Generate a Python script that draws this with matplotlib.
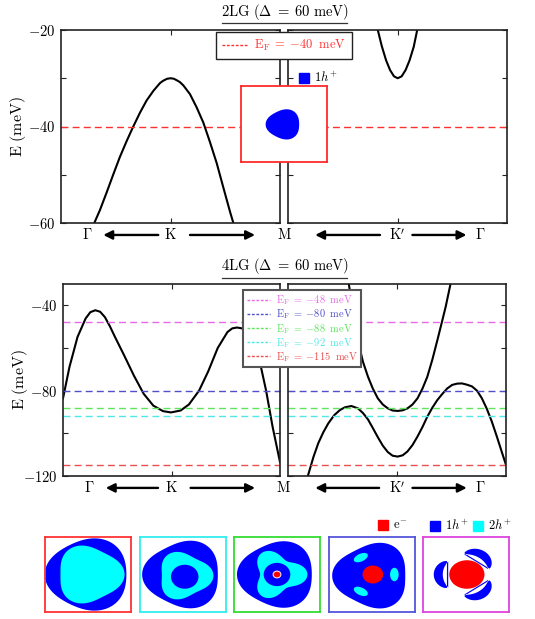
import numpy as np
import matplotlib
matplotlib.use('Agg')
import matplotlib.pyplot as plt
from matplotlib.lines import Line2D
from matplotlib.patches import Polygon, Ellipse

plt.rcParams['font.family'] = 'serif'
plt.rcParams['font.serif'] = ['cmr10', 'DejaVu Serif']
plt.rcParams['mathtext.fontset'] = 'cm'
plt.rcParams['axes.formatter.use_mathtext'] = True

# ---- band data (x = fraction along path, E in meV) ----
# 2LG, Gamma -> K -> M
lg2_left_x = [0.152, 0.178, 0.209, 0.239, 0.269, 0.300, 0.330, 0.361, 0.391, 0.422, 0.452, 0.467,
              0.485, 0.501, 0.515, 0.528, 0.543, 0.559, 0.589, 0.619, 0.650, 0.680, 0.711, 0.741,
              0.772, 0.787]
lg2_left_e = [-60.0, -57.3, -53.6, -49.9, -46.3, -43.0, -40.0, -37.1, -34.6, -32.6, -31.0, -30.5,
              -30.1, -30.0, -30.1, -30.4, -30.8, -31.5, -33.3, -36.0, -39.2, -43.2, -47.6, -52.6,
              -57.7, -60.0]
# 2LG, M -> K' -> Gamma
lg2_right_x = [0.410, 0.428, 0.448, 0.466, 0.484, 0.501, 0.519, 0.537, 0.555, 0.574, 0.590]
lg2_right_e = [-20.0, -23.3, -26.3, -28.3, -29.6, -30.0, -29.6, -28.3, -26.3, -23.5, -20.0]

# 4LG, Gamma -> K -> M
lg4_left_x = [0.000, 0.030, 0.067, 0.104, 0.126, 0.149, 0.171, 0.193, 0.216, 0.238, 0.282, 0.327,
              0.372, 0.416, 0.461, 0.498, 0.542, 0.580, 0.627, 0.669, 0.713, 0.758, 0.780, 0.802,
              0.825, 0.847, 0.877, 0.906, 0.936, 0.966, 1.000]
lg4_left_e = [-83.6, -68.8, -54.8, -46.2, -43.2, -42.3, -43.0, -45.5, -49.8, -54.5, -63.5, -73.0,
              -81.5, -87.0, -89.6, -90.2, -89.3, -86.5, -80.0, -71.0, -60.0, -52.5, -50.8, -50.4,
              -50.8, -52.5, -57.0, -66.0, -80.0, -97.0, -113.5]
# 4LG, M -> K' -> Gamma (upper and lower bands)
lg4_up_x = [0.279, 0.291, 0.306, 0.324, 0.344, 0.367, 0.389, 0.412, 0.435, 0.458, 0.480, 0.503,
            0.526, 0.548, 0.571, 0.594, 0.617, 0.639, 0.662, 0.685, 0.708, 0.723, 0.745]
lg4_up_e = [-30.0, -38.0, -48.0, -58.0, -66.5, -73.5, -79.0, -83.6, -86.5, -88.3, -89.3, -89.5,
            -89.2, -88.3, -86.5, -83.6, -79.0, -73.5, -65.5, -56.4, -47.0, -40.8, -30.2]
lg4_low_x = [0.091, 0.117, 0.139, 0.162, 0.185, 0.212, 0.238, 0.261, 0.291, 0.321, 0.344, 0.367,
             0.389, 0.412, 0.435, 0.458, 0.480, 0.503, 0.526, 0.548, 0.571, 0.594, 0.617, 0.639,
             0.662, 0.685, 0.708, 0.730, 0.753, 0.776, 0.798, 0.821, 0.844, 0.867, 0.889, 0.912,
             0.935, 0.958, 0.980, 1.000]
lg4_low_e = [-120.0, -111.0, -104.6, -99.5, -95.3, -91.5, -89.1, -87.8, -87.2, -88.3, -90.5, -93.5,
             -97.5, -101.8, -105.8, -108.8, -110.5, -110.9, -110.3, -108.5, -105.5, -101.5, -97.0, -92.2,
             -88.0, -84.4, -81.5, -79.0, -77.3, -76.7, -76.6, -77.2, -78.0, -80.0, -83.5, -88.5,
             -94.5, -101.5, -108.5, -114.8]

# Fermi levels
ef_2lg = -40
ef_2lg_color = '#ff3030'
ef_4lg = [-48, -80, -88, -92, -115]
ef_4lg_colors = ['#e86ae8', '#5050c8', '#5ce65c', '#4de8e8', '#e85050']

# Fermi-surface insets (bottom row, E_F = -115, -92, -88, -80, -48 meV)
inset_edges = ['#ff3333', '#33eeee', '#33dd33', '#5555dd', '#dd44dd']
# trigonal pockets: (colour, cx, cy, r0, warping, orientation deg)
inset_pockets = [
    [('blue', 0.0, 0.0, 0.95, 0.06, 180), ('cyan', 0.03, 0.0, 0.745, 0.10, 0)],
    [('blue', 0.0, 0.0, 0.88, 0.08, 180), ('cyan', 0.03, -0.03, 0.60, 0.13, 0)],
    [('blue', 0.0, 0.0, 0.87, 0.07, 180), ('cyan', 0.02, 0.0, 0.55, 0.25, 0)],
    [('blue', 0.0, -0.03, 0.85, 0.09, 180)],
    [],
]
# round pockets: (colour, cx, cy, x radius, y radius)
inset_discs = [
    [],
    [('blue', 0.04, -0.06, 0.32, 0.32)],
    [('blue', 0.0, 0.0, 0.31, 0.31), ('red', 0.0, 0.0, 0.09, 0.09)],
    [('red', 0.02, 0.0, 0.24, 0.24)],
    [('red', 0.02, 0.0, 0.41, 0.38)],
]
# small satellite pockets: (colour, angle deg, distance, radial size, tangential size)
inset_satellites = [[], [], [],
                    [('cyan', 0, 0.52, 0.20, 0.36), ('cyan', 120, 0.52, 0.20, 0.36),
                     ('cyan', 240, 0.52, 0.20, 0.36)],
                    []]
# crescent pockets: (colour, centre angle deg, half span deg, inner r, max width)
inset_arcs = [[], [], [], [],
              [('blue', 55, 40, 0.54, 0.21), ('blue', 180, 40, 0.54, 0.21), ('blue', 305, 40, 0.54, 0.21)]]
# 2LG inset pocket at E_F = -40 meV
top_pocket = ('blue', -0.01, -0.01, 0.39, 0.07, 180)

# bottom legend entries
key_colors = ['red', 'blue', 'cyan']
key_labels = [r'$\mathrm{e}^{-}$', r'$1h^{+}$', r'$2h^{+}$']

W, H = 535, 619
fig = plt.figure(figsize=(W / 100, H / 100), dpi=100)


def px_axes(x0, y0, x1, y1):
    return fig.add_axes([x0 / W, 1 - y1 / H, (x1 - x0) / W, (y1 - y0) / H])


def band_axes(ax, ylim, major, minor, labels):
    ax.set_xlim(0, 1)
    ax.set_ylim(*ylim)
    ax.set_xticks([0.5])
    ax.set_xticklabels([])
    ax.set_yticks(major)
    ax.set_yticks(minor, minor=True)
    ax.set_yticklabels([r'$-%d$' % abs(v) for v in major] if labels else [])
    ax.tick_params(which='both', direction='in', length=3.5, width=0.8, left=True, right=True,
                   top=True, bottom=True, labelsize=10.5, pad=4, color='#222222')
    for s in ax.spines.values():
        s.set_linewidth(1.2)
        s.set_color('#222222')


def path_labels(ax, labels, pos, arrows):
    for lab, xp in zip(labels, pos):
        ax.text(xp, -0.062, lab, transform=ax.transAxes, ha='center', va='center',
                fontsize=10.5, clip_on=False)
    for xs, xe in arrows:
        ax.annotate('', xy=(xe, -0.062), xytext=(xs, -0.062), xycoords='axes fraction',
                    arrowprops=dict(arrowstyle='-|>', color='k', lw=1.7, mutation_scale=13,
                                    shrinkA=0, shrinkB=0))


def trigonal(ax, colour, cx, cy, r0, w, th0):
    t = np.linspace(0, 2 * np.pi, 300)
    r = r0 * (1 + w * np.cos(3 * (t - np.radians(th0))))
    ax.add_patch(Polygon(np.column_stack([cx + r * np.cos(t), cy + r * np.sin(t)]),
                         closed=True, fc=colour, ec='none'))


def crescent(ax, colour, ang, half, rin, wid):
    phi = np.radians(np.linspace(ang - half, ang + half, 80))
    u = (phi - np.radians(ang)) / np.radians(half)
    rout = rin + wid * np.cos(u * np.pi / 2) ** 0.6
    xy = np.concatenate([np.column_stack([rout * np.cos(phi), rout * np.sin(phi)]),
                         np.column_stack([rin * np.cos(phi[::-1]), rin * np.sin(phi[::-1])])])
    ax.add_patch(Polygon(xy, closed=True, fc=colour, ec='none'))


def inset(ax, edge):
    ax.set_xlim(-1, 1)
    ax.set_ylim(-1, 1)
    ax.set_xticks([])
    ax.set_yticks([])
    ax.set_facecolor('white')
    for s in ax.spines.values():
        s.set_color(edge)
        s.set_linewidth(1.3)


def title(text, yc, yline):
    fig.text(285 / W, 1 - yc / H, text, ha='center', va='center', fontsize=10.5)
    fig.add_artist(Line2D([222 / W, 347 / W], [1 - yline / H] * 2, color='#333333', lw=0.9))


def ef_label(v):
    return r'$\mathrm{E_F}\;=\;{-}%d\;\ \mathrm{meV}$' % abs(v)


def key(x, y, colour, label):
    fig.legend([Line2D([], [], ls='none', marker='s', ms=7, color=colour)], [label],
               loc='center left', bbox_to_anchor=(x / W, 1 - y / H), frameon=False, fontsize=9,
               handlelength=0.8, handletextpad=0.4, borderpad=0, borderaxespad=0)


# ---------------- 2LG ----------------
ax1 = px_axes(61, 30, 280, 223)
ax2 = px_axes(288, 30, 507, 223)
band_axes(ax1, (-60, -20), [-60, -40, -20], [-50, -30], True)
band_axes(ax2, (-60, -20), [-60, -40, -20], [-50, -30], False)
ax1.plot(lg2_left_x, lg2_left_e, color='k', lw=1.5)
ax2.plot(lg2_right_x, lg2_right_e, color='k', lw=1.5)
for ax in (ax1, ax2):
    ax.axhline(ef_2lg, color=ef_2lg_color, lw=1.0, ls=(0, (5, 3)))
ax1.set_ylabel(r'$\mathrm{E\ (meV)}$', fontsize=11.5)
ax1.yaxis.set_label_coords(-0.152, 0.5)
path_labels(ax1, [r'$\Gamma$', r'$\mathrm{K}$', r'$\mathrm{M}$'], [0.12, 0.5, 1.018],
            [(0.444, 0.193), (0.589, 0.886)])
path_labels(ax2, [r'$\mathrm{K}^{\prime}$', r'$\Gamma$'], [0.5, 0.876],
            [(0.42, 0.124), (0.568, 0.815)])
title(r'$\mathrm{2LG}\ (\Delta\;=\;60\ \mathrm{meV})$', 12.5, 22.7)

fig.legend([Line2D([], [], color=ef_2lg_color, lw=1.0, ls=(0, (2, 1.2)))],
           [ef_label(ef_2lg)], loc='center', bbox_to_anchor=(284 / W, 1 - 45.5 / H),
           fontsize=9, labelcolor=ef_2lg_color, fancybox=False, edgecolor='#222222', framealpha=1,
           handlelength=2.0, borderpad=0.45, handletextpad=0.6).get_frame().set_linewidth(1.0)

axi = px_axes(241, 86, 327, 162)
inset(axi, '#ff2a2a')
trigonal(axi, *top_pocket)
key(299, 78, 'blue', r'$1h^{+}$')

# ---------------- 4LG ----------------
ax3 = px_axes(63, 284, 280, 476)
ax4 = px_axes(288, 284, 506, 476)
band_axes(ax3, (-120, -30), [-120, -80, -40], [-100, -60], True)
band_axes(ax4, (-120, -30), [-120, -80, -40], [-100, -60], False)
ax3.plot(lg4_left_x, lg4_left_e, color='k', lw=1.5)
ax4.plot(lg4_up_x, lg4_up_e, color='k', lw=1.5)
ax4.plot(lg4_low_x, lg4_low_e, color='k', lw=1.5)
for ax in (ax3, ax4):
    for ef, c in zip(ef_4lg, ef_4lg_colors):
        ax.axhline(ef, color=c, lw=1.0, ls=(0, (5, 3)))
ax3.set_ylabel(r'$\mathrm{E\ (meV)}$', fontsize=11.5)
ax3.yaxis.set_label_coords(-0.152, 0.5)
path_labels(ax3, [r'$\Gamma$', r'$\mathrm{K}$', r'$\mathrm{M}$'], [0.12, 0.5, 1.018],
            [(0.438, 0.197), (0.588, 0.885)])
path_labels(ax4, [r'$\mathrm{K}^{\prime}$', r'$\Gamma$'], [0.5, 0.88],
            [(0.418, 0.125), (0.571, 0.82)])
title(r'$\mathrm{4LG}\ (\Delta\;=\;60\ \mathrm{meV})$', 265.5, 278)

leg = fig.legend([Line2D([], [], color=c, lw=1.0, ls=(0, (2, 1.2))) for c in ef_4lg_colors],
                 [ef_label(v) for v in ef_4lg],
                 loc='upper left', bbox_to_anchor=(243 / W, 1 - 290 / H), fontsize=7.5,
                 labelcolor=ef_4lg_colors, fancybox=False, edgecolor='#555555', framealpha=1,
                 handlelength=2.2, borderpad=0.35, labelspacing=0.02, handletextpad=0.6,
                 borderaxespad=0)
leg.get_frame().set_linewidth(1.5)

# ---------------- Fermi-surface insets ----------------
box_x = [45, 140, 234, 329, 423]
for i, x0 in enumerate(box_x):
    ax = px_axes(x0, 537, x0 + 86, 612)
    inset(ax, inset_edges[i])
    for p in inset_pockets[i]:
        trigonal(ax, *p)
    for col, ang, dist, rad, tan in inset_satellites[i]:
        a = np.radians(ang)
        ax.add_patch(Ellipse((dist * np.cos(a), dist * np.sin(a)), rad, tan, angle=ang, fc=col, ec='none'))
    for col, cx, cy, rx, ry in inset_discs[i]:
        ax.add_patch(Ellipse((cx, cy), 2 * rx, 2 * ry, fc=col,
                             ec='#ffdede' if rx < 0.15 else 'none', lw=0.8))
    for arc in inset_arcs[i]:
        crescent(ax, *arc)

for x, c, lab in zip([378, 430, 473], key_colors, key_labels):
    key(x, 526, c, lab)

fig.savefig('out.png', dpi=100)
